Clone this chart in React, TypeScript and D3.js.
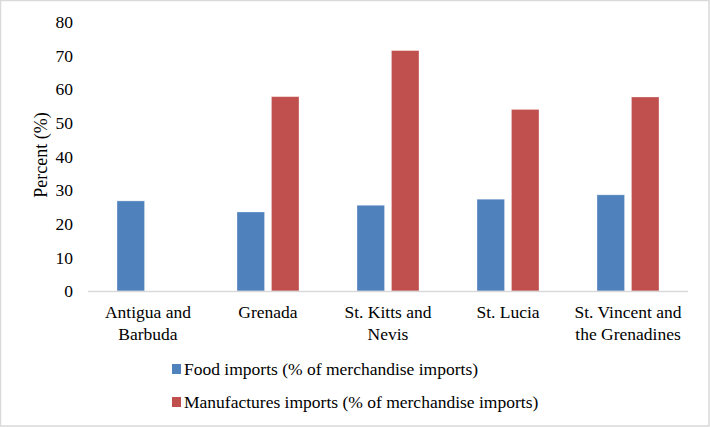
import React from "react";
import * as d3 from "d3";

const categories: string[][] = [
  ["Antigua and", "Barbuda"],
  ["Grenada"],
  ["St. Kitts and", "Nevis"],
  ["St. Lucia"],
  ["St. Vincent and", "the Grenadines"],
];
const categoryKeys = ["Antigua and Barbuda", "Grenada", "St. Kitts and Nevis", "St. Lucia", "St. Vincent and the Grenadines"];
const foodValues: (number | null)[] = [26.8, 23.5, 25.5, 27.3, 28.6];
const manufValues: (number | null)[] = [null, 57.8, 71.5, 54.0, 57.7];
const seriesNames = ["Food imports (% of merchandise imports)", "Manufactures imports (% of merchandise imports)"];
const seriesColors = ["#4f81bd", "#c0504d"];
const yTicks = [0, 10, 20, 30, 40, 50, 60, 70, 80];

const W = 710;
const H = 427;
const FONT = "Liberation Serif, Tinos, Times New Roman, Times, DejaVu Serif, Noto Serif, serif";

export default function App() {
  const x0 = d3.scaleBand<string>().domain(categoryKeys).range([88, 688]).padding(0);
  const x1 = d3.scaleBand<number>().domain([0, 1]).range([29, 91]).paddingInner(0.2);
  const y = d3.scaleLinear().domain([0, 80]).range([291, 22]);
  const series = [foodValues, manufValues];

  return (
    <svg width={W} height={H} style={{ position: "absolute", left: 0, top: 0, background: "#fff", fontFamily: FONT }}>
      <rect x={0.5} y={0.5} width={W - 1.5} height={H - 1.5} fill="#fff" stroke="#d9d9d9" strokeWidth={1.5} />
      {yTicks.map((t) => (
        <text key={t} x={73} y={y(t)} dy="0.35em" textAnchor="end" fontSize={17.5} fill="#000" style={{ fontFamily: FONT }}>
          {t}
        </text>
      ))}
      <text transform={`translate(47,${155}) rotate(-90)`} textAnchor="middle" fontSize={18} fill="#000" style={{ fontFamily: FONT }}>
        Percent (%)
      </text>
      {categoryKeys.map((c, i) => (
        <g key={c}>
          {series.map((vals, s) => {
            const v = vals[i];
            if (v == null) return null;
            const bx = (x0(c) as number) + (x1(s) as number);
            return (
              <rect key={s} x={bx} y={y(v)} width={x1.bandwidth()} height={y(0) - y(v)} fill={seriesColors[s]} stroke="#fff" strokeOpacity={0.4} strokeWidth={0.8} />
            );
          })}
        </g>
      ))}
      <line x1={88} x2={688} y1={y(0) + 0.5} y2={y(0) + 0.5} stroke="#d9d9d9" strokeWidth={1.5} />
      {categories.map((lines, i) => (
        <text key={i} x={(x0(categoryKeys[i]) as number) + x0.bandwidth() / 2} y={312} textAnchor="middle" fontSize={17.5} fill="#000" style={{ fontFamily: FONT }}>
          {lines.map((l, j) => (
            <tspan key={j} x={(x0(categoryKeys[i]) as number) + x0.bandwidth() / 2} y={312 + j * 21.5} dy="0.35em">
              {l}
            </tspan>
          ))}
        </text>
      ))}
      {seriesNames.map((n, s) => (
        <g key={n} transform={`translate(172,${369 + s * 33})`}>
          <rect x={0} y={-5} width={9} height={10} fill={seriesColors[s]} />
          <text x={12} y={0} dy="0.35em" fontSize={17.5} fill="#000" style={{ fontFamily: FONT }}>
            {n}
          </text>
        </g>
      ))}
    </svg>
  );
}
